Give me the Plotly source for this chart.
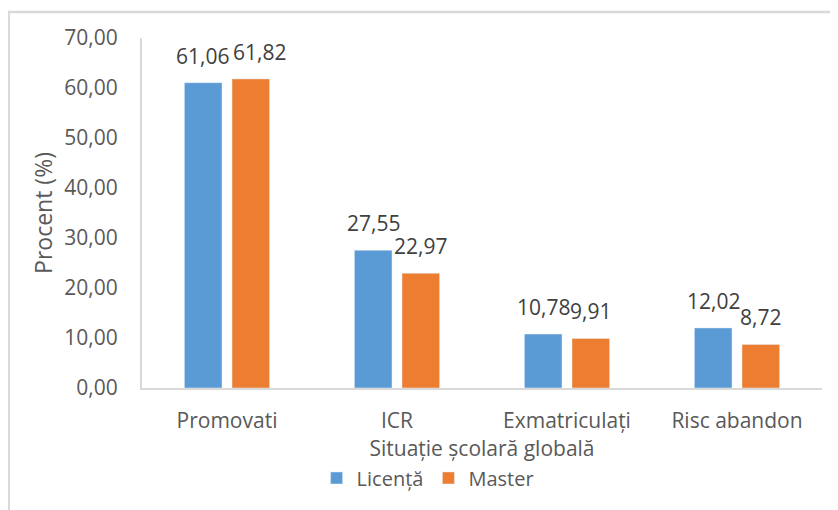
import plotly.graph_objects as go

categories = ["Promovati", "ICR", "Exmatriculați", "Risc abandon"]
licenta = [61.06, 27.55, 10.78, 12.02]
master = [61.82, 22.97, 9.91, 8.72]
y_ticks = [0, 10, 20, 30, 40, 50, 60, 70]

font_family = "'Open Sans', sans-serif"
grey_line = "#d9d9d9"
text_grey = "#595959"

fig = go.Figure()

fig.add_trace(go.Bar(x=categories, y=licenta, name="Licență", marker_color="#5b9bd5"))
fig.add_trace(go.Bar(x=categories, y=master, name="Master", marker_color="#ed7d31"))

# value labels above each bar (half a bar slot left / right of category centre)
# first group's labels sit side by side at the same height, so push the right one over a bit
for values, shift, nudge in [(licenta, -23.75, -1), (master, 23.75, 9)]:
    for i, (cat, val) in enumerate(zip(categories, values)):
        fig.add_annotation(
            x=cat, y=val, xref="x", yref="y",
            text=f"{val:.2f}".replace(".", ","),
            showarrow=False, yanchor="bottom", xanchor="center",
            xshift=shift + (nudge if i == 0 else 0), yshift=11,
            font=dict(size=21, color="#404040", family=font_family),
        )

fig.update_xaxes(
    title_text="Situație școlară globală",
    title_font=dict(size=21, color=text_grey),
    title_standoff=4,
    tickfont=dict(size=21, color=text_grey),
    ticklabelstandoff=13,
    showline=True, linecolor=grey_line, linewidth=2,
    showgrid=False,
)
fig.update_yaxes(
    title_text="Procent (%)",
    title_font=dict(size=23, color=text_grey),
    title_standoff=5,
    range=[0, 70],
    tickvals=y_ticks,
    tickformat=".2f",
    tickfont=dict(size=21, color=text_grey),
    ticklabelstandoff=18,
    showline=True, linecolor=grey_line, linewidth=2,
    showgrid=False, zeroline=False,
)

# chart border (top and left edges)
fig.add_shape(type="line", xref="paper", yref="paper", x0=-0.197, x1=1.1, y0=1.074, y1=1.074,
              line=dict(color=grey_line, width=2.5))
fig.add_shape(type="line", xref="paper", yref="paper", x0=-0.196, x1=-0.196, y0=1.074, y1=-0.45,
              line=dict(color=grey_line, width=2.5))

fig.update_layout(
    width=838, height=510,
    margin=dict(l=134, r=24, t=30, b=130),
    font=dict(family=font_family, color=text_grey),
    paper_bgcolor="white", plot_bgcolor="white",
    separators=",.",
    barmode="group",
    bargap=0.44,
    bargroupgap=0.21,
    legend=dict(orientation="h", x=0.42, xanchor="center", y=-0.257, yanchor="middle",
                font=dict(size=20, color=text_grey), itemwidth=30, tracegroupgap=0),
)

fig.write_html("out.html")
